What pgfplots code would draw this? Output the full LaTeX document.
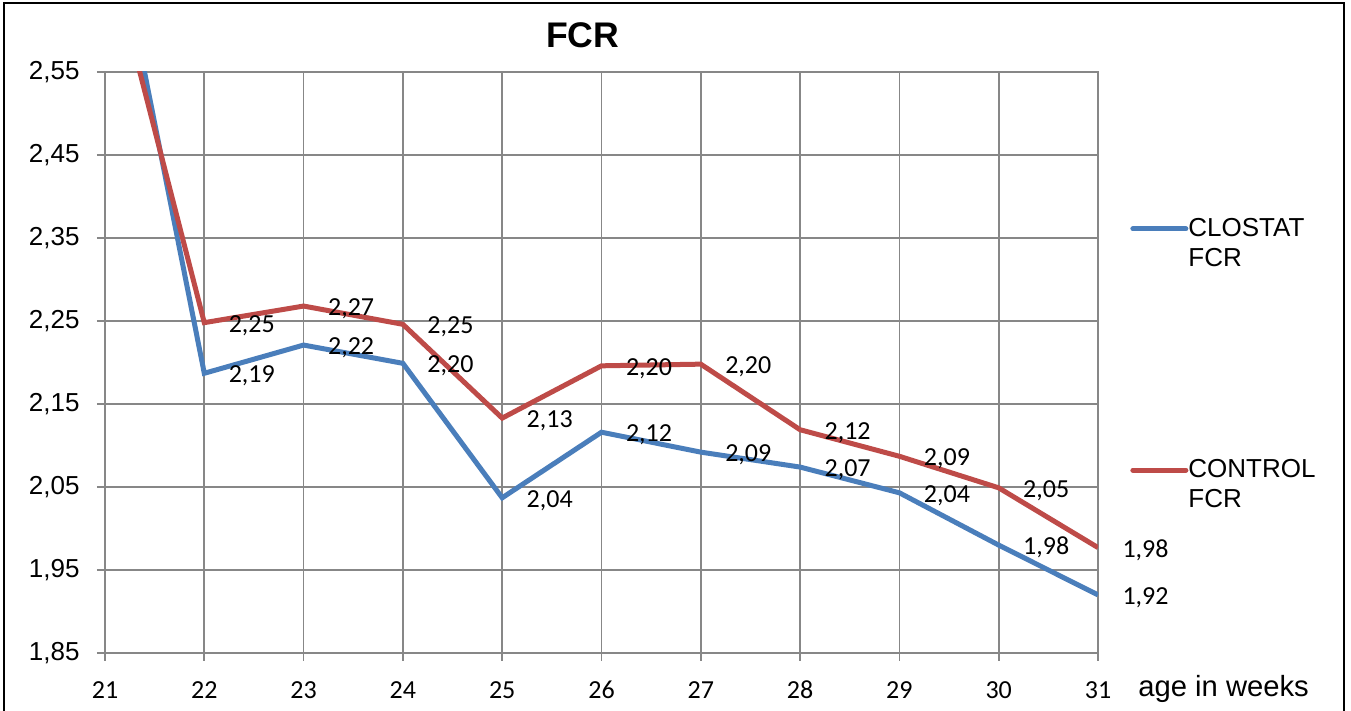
\documentclass[border=0pt]{standalone}
\usepackage{pgfplots}
\pgfplotsset{compat=1.18}
\usepackage{fontspec}
\setmainfont{Liberation Sans}
\newfontfamily\carlito{Carlito}
\definecolor{clostat}{HTML}{4A7EBB}
\definecolor{control}{HTML}{BE4B48}
\definecolor{gridgray}{HTML}{878787}
\begin{document}
\begin{tikzpicture}
\useasboundingbox (-52.5pt,-29pt) rectangle (623pt,326.5pt);
\draw[line width=1.3pt] (-50.5pt,-40pt) -- (-50.5pt,325pt) -- (619.5pt,325pt) -- (619.5pt,-40pt);
\begin{axis}[
  scale only axis, width=496.5pt, height=290.5pt,
  xmin=21, xmax=31, ymin=1.85, ymax=2.55,
  xtick={21,22,23,24,25,26,27,28,29,30,31},
  xticklabels={21,22,23,24,25,26,27,28,29,30,31},
  ytick={1.85,1.95,2.05,2.15,2.25,2.35,2.45,2.55},
  grid=major, grid style={gridgray, line width=0.9pt},
  axis line style={gridgray, line width=0.9pt},
  tick style={gridgray, line width=0.9pt},
  tick align=outside, major tick length=4pt,
  xtick pos=left, ytick pos=left,
  /pgf/number format/.cd, fixed, fixed zerofill, precision=2, use comma, assume math mode=true,
  /pgfplots/.cd,
  yticklabel style={font=\fontsize{13}{15}\selectfont, anchor=east, inner sep=0pt, xshift=-8.5pt, text=black},
  xticklabel style={font=\carlito\fontsize{13}{15}\selectfont, anchor=center, inner sep=0pt, yshift=-14.5pt, text=black},
  title={FCR},
  title style={at={(axis description cs:0.481,1)}, anchor=base, yshift=6pt, font=\bfseries\fontsize{17.8}{20}\selectfont},
  xlabel={age in weeks},
  xlabel style={at={(axis description cs:1,0)}, anchor=base west, xshift=20pt, yshift=-22pt, font=\fontsize{14.6}{17}\selectfont, inner sep=0pt},
  legend style={at={(axis description cs:1.0322,0.7487)}, anchor=north west, draw=none, fill=none, inner sep=0pt, row sep=95pt, column sep=0pt, font=\fontsize{13}{15}\selectfont, nodes={align=left, inner sep=0pt}},
  legend cell align=left,
  legend image code/.code={\draw[#1, line cap=round] (0pt,7.5pt) -- (26.5pt,7.5pt);},
  no markers,
  nodes near coords,
  every node near coord/.append style={font=\carlito\fontsize{13}{15}\selectfont, anchor=west, inner sep=0pt, xshift=11pt, yshift=-1.3pt, text=black},
]
\addplot[clostat, line width=2.5pt] coordinates {
  (21,2.790) (22,2.187) (23,2.221) (24,2.199) (25,2.037) (26,2.116)
  (27,2.092) (28,2.074) (29,2.043) (30,1.980) (31,1.920)};
\addlegendentry{CLOSTAT\\FCR}
\addplot[control, line width=2.5pt] coordinates {
  (21,2.713) (22,2.248) (23,2.268) (24,2.246) (25,2.133) (26,2.196)
  (27,2.198) (28,2.119) (29,2.087) (30,2.049) (31,1.977)};
\addlegendentry{CONTROL\\FCR}
\end{axis}
\end{tikzpicture}
\end{document}
